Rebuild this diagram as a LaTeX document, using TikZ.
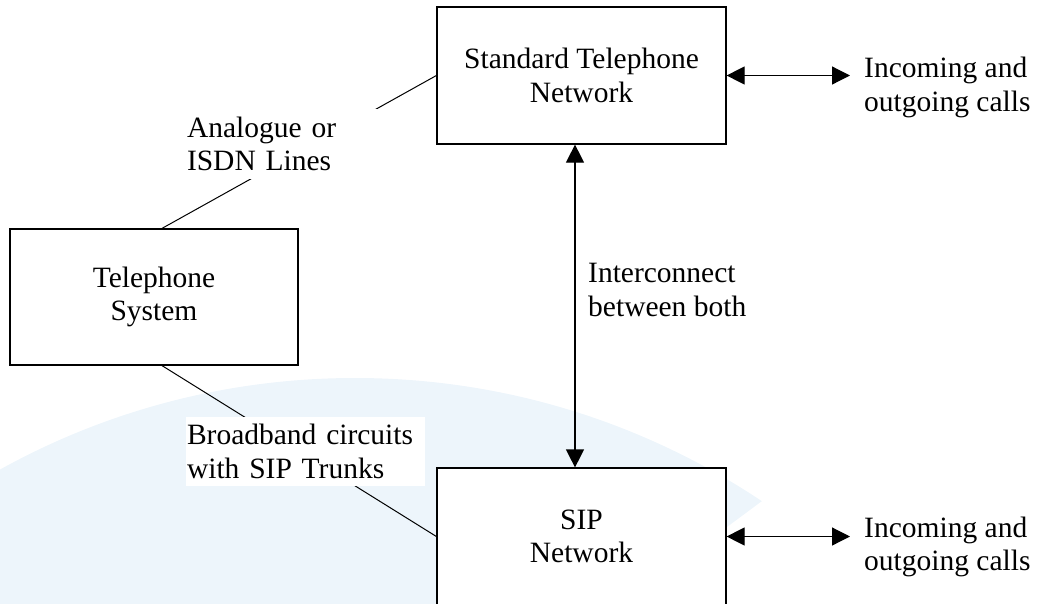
\documentclass[tikz,border=0pt]{standalone}
\usepackage{fontspec}
\setmainfont{Liberation Serif}
\usetikzlibrary{arrows.meta}
\definecolor{wmblue}{RGB}{237,245,251}
\pgfdeclarelayer{wmlayer}
\pgfdeclarelayer{linelayer}
\pgfsetlayers{wmlayer,linelayer,main}
\begin{document}
\begin{tikzpicture}[x=1pt,y=-1pt,
  font=\fontsize{29.5}{33.5}\selectfont,
  box/.style={draw, line width=1.2pt, fill=white, minimum width=289pt, minimum height=137pt, align=center, inner sep=0pt},
  lbl/.style={fill=white, align=left, inner xsep=1pt, inner ysep=0pt},
  txt/.style={anchor=west, align=left, inner sep=0pt},
  conn/.style={line width=1pt},
  arr/.style={line width=1.2pt, {Triangle[length=18pt,width=18pt]}-{Triangle[length=18pt,width=18pt]}}
]
\useasboundingbox (0,0) rectangle (1037,603);

% boxes
\node[box, minimum width=288pt, minimum height=136pt] (ts) at (154,297) {Telephone\\System};
\node[box] (stn) at (581.5,75.5) {Standard Telephone\\Network};
\node[box] (sip) at (581.5,536.5) {SIP\\Network};

% labels
\node[lbl, text width=192pt, minimum height=70pt] (ana) at (283,144) {Analogue or\\ISDN Lines};
\node[lbl, text width=237pt, minimum height=69pt] (bb) at (305.5,451.5) {Broadband circuits\\with SIP Trunks};
\node[txt] (ic) at (588,290) {Interconnect\\between both};
\node[txt] (in1) at (864,87.5) {Incoming and\\outgoing calls};
\node[txt] (in2) at (864,547) {Incoming and\\outgoing calls};

% arrows
\draw[arr, shorten >=14pt] (stn.east) -- (stn.east -| in1.west);
\draw[arr, shorten >=14pt] (sip.east) -- (sip.east -| in2.west);
\draw[arr] ([xshift=-6.5pt]stn.south) -- ([xshift=-6.5pt]sip.north);

% connector lines (under labels)
\begin{pgfonlayer}{linelayer}
\draw[conn] ([xshift=8pt]ts.north) -- (stn.west);
\draw[conn] ([xshift=8pt]ts.south) -- (sip.west);
\end{pgfonlayer}

% watermark
\begin{pgfonlayer}{wmlayer}
\begin{scope}
\clip (0,0) -- (1037,0) -- (1037,501) -- (762,501) -- (560,651) -- (0,651) -- cycle;
\fill[wmblue] (355,1111) circle[radius=733pt];
\end{scope}
\end{pgfonlayer}
\end{tikzpicture}
\end{document}
